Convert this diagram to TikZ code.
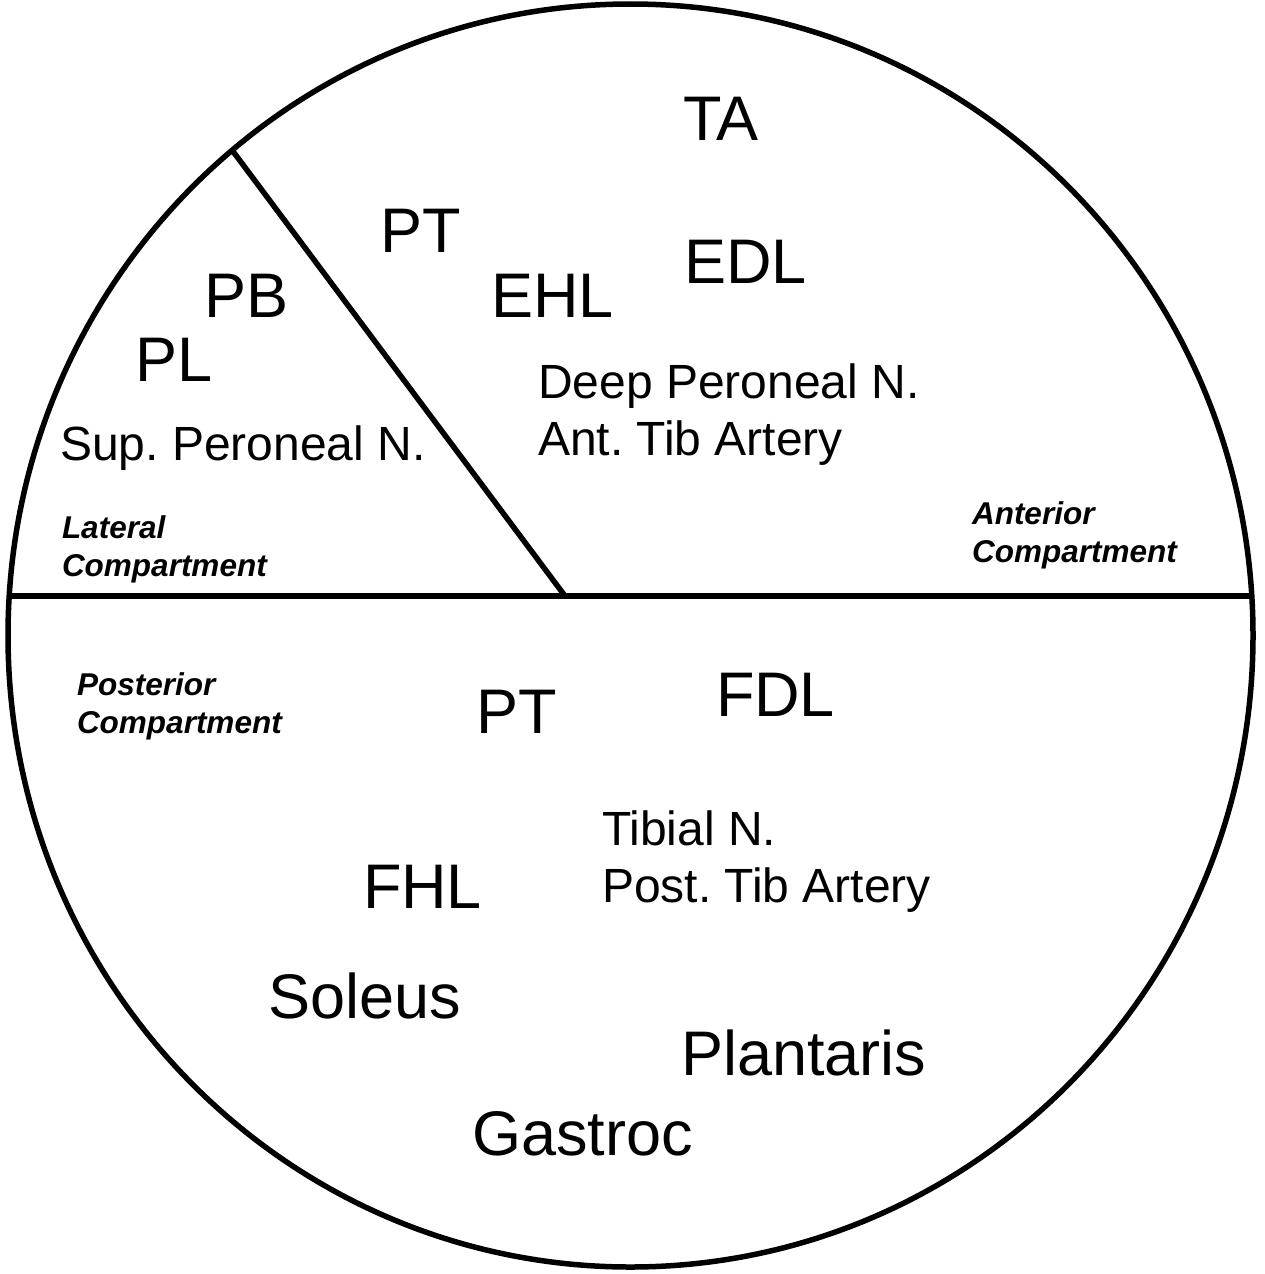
\documentclass[tikz,border=0pt]{standalone}
\usepackage{fontspec}
\setmainfont{Liberation Sans}
\frenchspacing
\usepackage{tikz}
\usetikzlibrary{positioning}

\begin{document}
\begin{tikzpicture}[
  x=1pt, y=-1pt,
  wall/.style={draw=black, line width=5.5pt},
  every node/.style={inner sep=0pt, outer sep=0pt, anchor=base west},
  muscle/.style={font=\fontsize{63}{70}\selectfont},
  vessel/.style={align=left, font=\fontsize{48}{57}\selectfont},
  compartment/.style={align=left, font=\fontsize{31.5}{38}\selectfont\bfseries\itshape}
]
\useasboundingbox (0,0) rectangle (1264,1274);

% leg cross-section
\coordinate (c) at (630.5,635.5);
\coordinate (lat) at (9.2,596);
\coordinate (med) at (1251.8,596);
\coordinate (top) at (232,150);
\coordinate (mid) at (565,596);

\draw[wall] (c) ellipse [x radius=622.5, y radius=631.5];
\draw[wall] (lat) -- (med);
\draw[wall] (top) -- (mid);

% anterior compartment (multi-line nodes sit on their last line)
\node[muscle] (ta)  at (683,140) {TA};
\node[muscle] (pta) at (380,252) {PT};
\node[muscle] (edl) at (684,283) {EDL};
\node[muscle] (ehl) at (491,317) {EHL};
\node[vessel] (dpn) at (538,455) {Deep Peroneal N.\\Ant. Tib Artery};
\node[compartment] (antc) at (972,562) {Anterior\\Compartment};

% lateral compartment
\node[muscle] (pb) at (204,317) {PB};
\node[muscle] (pl) at (135,381) {PL};
\node[vessel] (spn) at (60,460) {Sup. Peroneal N.};
\node[compartment] (latc) at (62,576) {Lateral\\Compartment};

% posterior compartment
\node[compartment] (postc) at (77,733) {Posterior\\Compartment};
\node[muscle] (ptp) at (476,733) {PT};
\node[muscle] (fdl) at (716,716) {FDL};
\node[vessel] (tn)  at (602,902) {Tibial N.\\Post. Tib Artery};
\node[muscle] (fhl) at (363,908) {FHL};
\node[muscle] (sol) at (268,1018) {Soleus};
\node[muscle] (pla) at (681,1075) {Plantaris};
\node[muscle] (gas) at (472,1155) {Gastroc};
\end{tikzpicture}
\end{document}
